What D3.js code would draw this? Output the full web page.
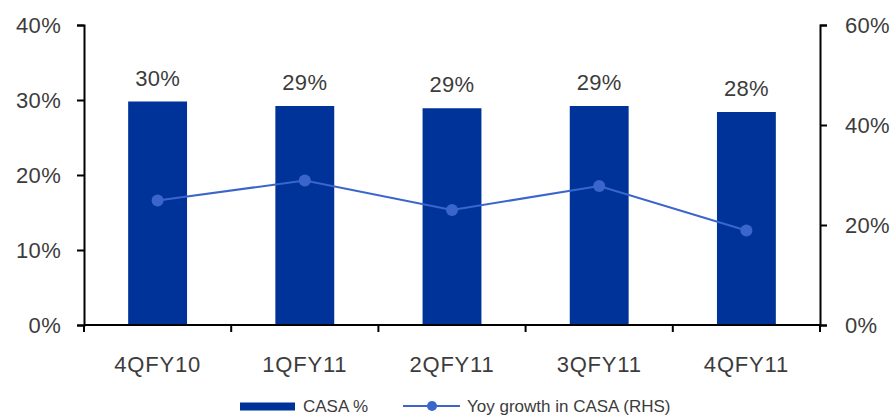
<!DOCTYPE html>
<html>
<head>
<meta charset="utf-8">
<script src="https://cdn.jsdelivr.net/npm/d3@7"></script>
<style>
  html, body { margin: 0; padding: 0; background: #fff; }
  svg { display: block; font-family: "Liberation Sans", Arial, Helvetica, sans-serif; }
</style>
</head>
<body>
<svg id="chart" width="894" height="416"></svg>
<script>
// Quarterly CASA ratio (bars, left axis) and YoY CASA growth (line, right axis)
const quarters = ["4QFY10", "1QFY11", "2QFY11", "3QFY11", "4QFY11"];
const casaPct = [29.8, 29.2, 28.9, 29.2, 28.4];
const casaLabels = ["30%", "29%", "29%", "29%", "28%"];
const yoyGrowth = [24.9, 28.9, 23.0, 27.8, 18.9];
const leftTicks = [0, 10, 20, 30, 40];
const rightTicks = [0, 20, 40, 60];

const barColor = "#003399";
const lineColor = "#3a66cc";
const textColor = "#3c3c3c";
const bigFont = 22;

const svg = d3.select("#chart");
const m = { left: 84, right: 820, top: 25, bottom: 325 };

const x = d3.scaleBand().domain(quarters).range([m.left, m.right]).paddingInner(0.6).paddingOuter(0.3);
const yL = d3.scaleLinear().domain([0, 40]).range([m.bottom, m.top]);
const yR = d3.scaleLinear().domain([0, 60]).range([m.bottom, m.top]);

// Bars
svg.append("g").selectAll("rect").data(quarters).join("rect")
  .attr("x", d => x(d))
  .attr("width", x.bandwidth())
  .attr("y", (d, i) => yL(casaPct[i]))
  .attr("height", (d, i) => yL(0) - yL(casaPct[i]))
  .attr("fill", barColor);

// Value labels above bars
svg.append("g").selectAll("text").data(quarters).join("text")
  .attr("x", d => x(d) + x.bandwidth() / 2)
  .attr("y", (d, i) => yL(casaPct[i]) - 16)
  .attr("text-anchor", "middle")
  .attr("font-size", bigFont)
  .attr("letter-spacing", 0.3)
  .attr("fill", textColor)
  .text((d, i) => casaLabels[i]);

// Growth line with markers
const cx = d => x(d) + x.bandwidth() / 2;
svg.append("path")
  .datum(quarters)
  .attr("fill", "none")
  .attr("stroke", lineColor)
  .attr("stroke-width", 2)
  .attr("d", d3.line().x(d => cx(d)).y((d, i) => yR(yoyGrowth[i])));
svg.append("g").selectAll("circle").data(quarters).join("circle")
  .attr("cx", d => cx(d))
  .attr("cy", (d, i) => yR(yoyGrowth[i]))
  .attr("r", 6)
  .attr("fill", lineColor);

// Axes
const styleAxis = g => {
  g.selectAll(".domain").attr("stroke", "#000").attr("stroke-width", 2);
  g.selectAll(".tick line").attr("stroke", "#000").attr("stroke-width", 2);
  g.selectAll("text").attr("fill", textColor).attr("font-size", bigFont)
    .attr("letter-spacing", 0.3)
    .attr("font-family", "'Liberation Sans', Arial, sans-serif");
};

svg.append("g")
  .attr("transform", `translate(${m.left},0)`)
  .call(d3.axisLeft(yL).tickValues(leftTicks).tickFormat(d => d + "%").tickSize(7).tickSizeOuter(7).tickPadding(16))
  .call(styleAxis);

svg.append("g")
  .attr("transform", `translate(${m.right},0)`)
  .call(d3.axisRight(yR).tickValues(rightTicks).tickFormat(d => d + "%").tickSize(7).tickSizeOuter(7).tickPadding(18))
  .call(styleAxis);

// X axis: ticks at category boundaries
const xAxis = svg.append("g").attr("transform", `translate(0,${m.bottom})`);
xAxis.append("line")
  .attr("x1", m.left).attr("x2", m.right)
  .attr("stroke", "#000").attr("stroke-width", 2);
const boundaries = d3.range(quarters.length + 1).map(i => m.left + (m.right - m.left) * i / quarters.length);
xAxis.selectAll("line.tk").data(boundaries).join("line")
  .attr("class", "tk")
  .attr("x1", d => d).attr("x2", d => d)
  .attr("y1", 0).attr("y2", 7)
  .attr("stroke", "#000").attr("stroke-width", 2);
xAxis.selectAll("text").data(quarters).join("text")
  .attr("x", d => cx(d))
  .attr("y", 47)
  .attr("text-anchor", "middle")
  .attr("font-size", bigFont)
  .attr("letter-spacing", 0.8)
  .attr("fill", textColor)
  .text(d => d);

// Legend
const leg = svg.append("g").attr("transform", "translate(0,406)");
leg.append("rect").attr("x", 240).attr("y", -3.5).attr("width", 55).attr("height", 8).attr("fill", barColor);
leg.append("text").attr("x", 303).attr("y", 6).attr("font-size", 17).attr("fill", textColor).text("CASA %");
leg.append("line").attr("x1", 403).attr("x2", 460).attr("y1", 0).attr("y2", 0)
  .attr("stroke", lineColor).attr("stroke-width", 2);
leg.append("circle").attr("cx", 432).attr("cy", 0).attr("r", 5).attr("fill", lineColor);
leg.append("text").attr("x", 467).attr("y", 6).attr("font-size", 17).attr("fill", textColor).text("Yoy growth in CASA (RHS)");
</script>
</body>
</html>
